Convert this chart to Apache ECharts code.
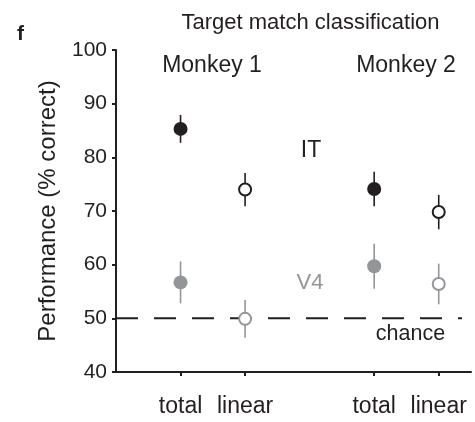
<!DOCTYPE html>
<html>
<head>
<meta charset="utf-8">
<script src="https://cdn.jsdelivr.net/npm/echarts@6/dist/echarts.min.js"></script>
<style>
  html, body { margin: 0; padding: 0; background: #fff; }
  #chart { width: 475px; height: 422px; }
</style>
</head>
<body>
<div id="chart"></div>
<script>
// Decoding performance per monkey and readout type
const monkeys = ['Monkey 1', 'Monkey 2'];
const conditions = ['total', 'linear', 'total', 'linear'];
// order: Monkey 1 total, Monkey 1 linear, Monkey 2 total, Monkey 2 linear
const itMean = [85.3, 74.0, 74.1, 69.8];
const itErr = [2.6, 3.1, 3.2, 3.2];
const v4Mean = [56.7, 49.9, 59.7, 56.4];
const v4Err = [3.9, 3.5, 4.2, 3.8];
const chanceLevel = 50;
const yTicks = [40, 50, 60, 70, 80, 90, 100];

const FONT = '"Liberation Sans", Arial, Helvetica, sans-serif';
const INK = '#231f20';
const GREY = '#939598';

// each monkey gets a pair of slots with one empty slot between the pairs
const slotX = i => i + 1 + Math.floor(i / 2);
const xSlots = conditions.map((_, i) => slotX(i));

function errorSeries(means, errs, color) {
  return {
    type: 'custom',
    z: 1,
    silent: true,
    data: means.map((m, i) => [slotX(i), m, errs[i]]),
    renderItem: (params, api) => {
      const x = api.value(0), m = api.value(1), e = api.value(2);
      const lo = api.coord([x, m - e]);
      const hi = api.coord([x, m + e]);
      return {
        type: 'line',
        shape: { x1: lo[0], y1: lo[1], x2: hi[0], y2: hi[1] },
        style: { stroke: color, lineWidth: 1.6 }
      };
    }
  };
}

function pointSeries(means, start, color, filled) {
  const pts = [];
  for (let i = start; i < means.length; i += 2) pts.push([slotX(i), means[i]]);
  return {
    type: 'scatter',
    z: 3,
    silent: true,
    data: pts,
    symbol: 'circle',
    symbolSize: filled ? 14 : 12,
    itemStyle: filled
      ? { color: color, opacity: 1 }
      : { color: '#fff', borderColor: color, borderWidth: 2, opacity: 1 }
  };
}

const chart = echarts.init(document.getElementById('chart'), null, { renderer: 'canvas' });

chart.setOption({
  animation: false,
  backgroundColor: '#fff',
  grid: { left: 116, right: 4, top: 50, bottom: 50, containLabel: false },
  xAxis: {
    type: 'value',
    min: 0,
    max: 5.5,
    splitLine: { show: false },
    axisLine: { onZero: false, lineStyle: { color: INK, width: 2 } },
    axisTick: { customValues: xSlots, length: 4, lineStyle: { color: INK, width: 2 } },
    axisLabel: {
      customValues: xSlots,
      formatter: v => conditions[xSlots.indexOf(v)] || '',
      margin: 23,
      color: INK,
      fontFamily: FONT,
      fontSize: 23
    }
  },
  yAxis: {
    type: 'value',
    min: yTicks[0],
    max: yTicks[yTicks.length - 1],
    interval: 10,
    name: 'Performance (% correct)',
    nameLocation: 'middle',
    nameGap: 56,
    nameTextStyle: { color: INK, fontFamily: FONT, fontSize: 24 },
    splitLine: { show: false },
    axisLine: { show: true, lineStyle: { color: INK, width: 2 } },
    axisTick: { show: true, length: 4, lineStyle: { color: INK, width: 2 } },
    axisLabel: { margin: 9, color: INK, fontFamily: FONT, fontSize: 21 }
  },
  series: [
    {
      // chance level reference line
      type: 'line',
      z: 0,
      silent: true,
      showSymbol: false,
      data: [[0, chanceLevel], [5.36, chanceLevel]],
      lineStyle: { color: INK, width: 2, type: [22, 16] }
    },
    errorSeries(itMean, itErr, INK),
    errorSeries(v4Mean, v4Err, GREY),
    pointSeries(itMean, 0, INK, true),
    pointSeries(itMean, 1, INK, false),
    pointSeries(v4Mean, 0, GREY, true),
    pointSeries(v4Mean, 1, GREY, false)
  ],
  graphic: [
    { type: 'text', x: 20.5, y: 34, style: { text: 'f', font: 'bold 21px ' + FONT, fill: INK, align: 'center', verticalAlign: 'middle' } },
    { type: 'text', x: 310.5, y: 23, style: { text: 'Target match classification', font: '22px ' + FONT, fill: INK, align: 'center', verticalAlign: 'middle' } },
    { type: 'text', x: 212, y: 65.5, style: { text: monkeys[0], font: '23px ' + FONT, fill: INK, align: 'center', verticalAlign: 'middle' } },
    { type: 'text', x: 406, y: 65.5, style: { text: monkeys[1], font: '23px ' + FONT, fill: INK, align: 'center', verticalAlign: 'middle' } },
    { type: 'text', x: 311, y: 150.5, style: { text: 'IT', font: '23px ' + FONT, fill: INK, align: 'center', verticalAlign: 'middle' } },
    { type: 'text', x: 310, y: 282.5, style: { text: 'V4', font: '22px ' + FONT, fill: GREY, align: 'center', verticalAlign: 'middle' } },
    { type: 'text', x: 410.5, y: 334, style: { text: 'chance', font: '21.5px ' + FONT, fill: INK, align: 'center', verticalAlign: 'middle' } }
  ]
});
</script>
</body>
</html>
